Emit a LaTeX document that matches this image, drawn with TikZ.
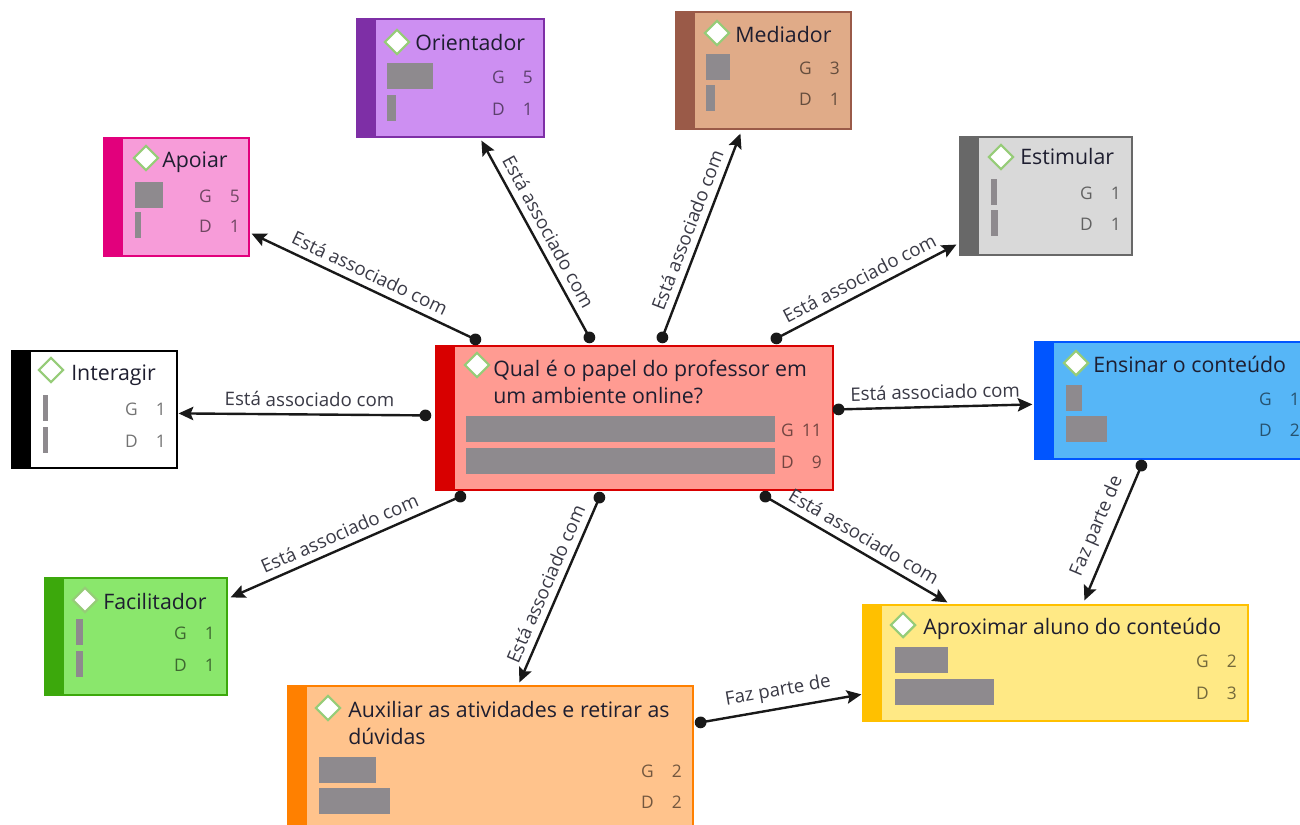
\documentclass[tikz,border=0pt]{standalone}
\usepackage{fontspec}
\setmainfont{Open Sans}
\usetikzlibrary{arrows.meta,calc,fit,shapes.geometric}

\definecolor{titlecol}{HTML}{1E1E30}
\definecolor{lblcol}{HTML}{3A3A46}
\definecolor{diagreen}{HTML}{96CC78}
\definecolor{barcol}{HTML}{8E8A8E}
% stripes / fills
\definecolor{oriS}{HTML}{7E2FA6}\definecolor{oriF}{HTML}{CD8FF2}
\definecolor{medS}{HTML}{9A5A48}\definecolor{medF}{HTML}{E0AB88}
\definecolor{apoS}{HTML}{E2007C}\definecolor{apoF}{HTML}{F79CD9}
\definecolor{estS}{HTML}{686868}\definecolor{estF}{HTML}{D9D9D9}
\definecolor{intS}{HTML}{000000}\definecolor{intF}{HTML}{FFFFFF}
\definecolor{cenS}{HTML}{D80000}\definecolor{cenF}{HTML}{FF9B92}
\definecolor{ensS}{HTML}{0055FF}\definecolor{ensF}{HTML}{56B6F7}
\definecolor{facS}{HTML}{3CA80C}\definecolor{facF}{HTML}{8AE76C}
\definecolor{auxS}{HTML}{FF8000}\definecolor{auxF}{HTML}{FFC38C}
\definecolor{aprS}{HTML}{FFC000}\definecolor{aprF}{HTML}{FFE985}

\tikzset{
  cbox/.style={inner sep=0pt, line width=0.9pt},
  dia/.style={diamond, draw=diagreen, fill=white, line width=1.6pt,
    minimum width=19pt, minimum height=19pt, inner sep=0pt},
  ttl/.style={font=\fontsize{16}{19}\selectfont, text=titlecol, inner sep=0pt, anchor=base west},
  gd/.style={font=\fontsize{13}{15}\selectfont, text=black, text opacity=0.55, inner sep=0pt, anchor=base east},
  bar/.style={fill=barcol},
  conn/.style={line width=1.8pt, draw=black!90, -{Stealth[length=11pt,width=10pt,inset=2pt]}},
  lbl/.style={font=\fontsize{14}{16}\selectfont, text=lblcol, sloped, above, inner sep=5pt},
  dotc/.style={fill=black!90},
}

% name, x1, y1, x2, y2, stripe, fill
\newcommand{\cbox}[7]{%
  \node[cbox, draw=#6, fill=#7, fit={(#2,#3)(#4,#5)}] (#1) {};
  \fill[#6] (#1.north west) rectangle ($(#1.south west)+(20,0)$);}
% name, diamond x, diamond y, text x, text centre y, text
\newcommand{\ctitle}[6]{%
  \node[dia] (#1-dia) at (#2,#3) {};
  \node[ttl] (#1-ttl) at (#4,#5+7.5) {#6};}
% name, bar x0, G bar top, G bar end, D bar top, D bar end, number right, G, D
\newcommand{\cstats}[9]{%
  \fill[bar] (#2,#3) rectangle (#4,#3+26);
  \fill[bar] (#2,#5) rectangle (#6,#5+26);
  \node[gd] (#1-gl) at (#7-28,#3+20) {G};
  \node[gd] (#1-gn) at (#7,#3+20) {#8};
  \node[gd] (#1-dl) at (#7-28,#5+20) {D};
  \node[gd] (#1-dn) at (#7,#5+20) {#9};}
% name, start, end, pos, label
\newcommand{\cconn}[5]{%
  \draw[conn] #2 -- #3 node[lbl, pos=#4] (#1) {#5};
  \fill[dotc] #2 circle[radius=4.4pt];}

\begin{document}
\begin{tikzpicture}[x=0.75pt,y=-0.75pt]
\useasboundingbox (0,0) rectangle (1300,825);
\fill[white] (0,0) rectangle (1300,825);

% ---- boxes
\cbox{ori}{357}{19}{544}{137}{oriS}{oriF}
\ctitle{ori}{397}{42}{415}{43}{Orientador}
\cstats{ori}{387}{63}{433}{95}{396}{533}{5}{1}

\cbox{med}{676}{12}{851}{129}{medS}{medF}
\ctitle{med}{717}{33}{735}{35}{Mediador}
\cstats{med}{706}{54}{730}{85}{715}{840}{3}{1}

\cbox{apo}{104}{138}{249}{256}{apoS}{apoF}
\ctitle{apo}{146}{158}{162}{160}{Apoiar}
\cstats{apo}{135}{182}{163}{212}{141}{240}{5}{1}

\cbox{est}{960}{137}{1132}{255}{estS}{estF}
\ctitle{est}{1001}{157}{1020}{157}{Estimular}
\cstats{est}{991}{179}{997}{210}{998}{1121}{1}{1}

\cbox{int}{12}{351}{177}{468}{intS}{intF}
\ctitle{int}{51}{370}{71}{373}{Interagir}
\cstats{int}{43}{395}{48}{427}{48}{166}{1}{1}

\cbox{cen}{436}{346}{833}{490}{cenS}{cenF}
\ctitle{cen}{477}{365}{493}{369}{Qual é o papel do professor em}
\node[ttl] (cen-ttl2) at (493,396+7.5) {um ambiente online?};
\cstats{cen}{466}{416}{775}{448}{775}{822}{11}{9}

\cbox{ens}{1035}{342}{1320}{459}{ensS}{ensF}
\ctitle{ens}{1076}{363}{1093}{365}{Ensinar o conteúdo}
\cstats{ens}{1066}{385}{1082}{416}{1107}{1300}{1}{2}

\cbox{fac}{45}{578}{227}{695}{facS}{facF}
\ctitle{fac}{85}{600}{103}{602}{Facilitador}
\cstats{fac}{76}{619}{83}{651}{83}{215}{1}{1}

\cbox{aux}{288}{686}{693}{850}{auxS}{auxF}
\ctitle{aux}{328}{708}{348}{710}{Auxiliar as atividades e retirar as}
\node[ttl] (aux-ttl2) at (348,737+7.5) {dúvidas};
\cstats{aux}{319}{757}{376}{788}{390}{682}{2}{2}

\cbox{apr}{863}{605}{1248}{721}{aprS}{aprF}
\ctitle{apr}{903}{625}{923}{627}{Aproximar aluno do conteúdo}
\cstats{apr}{895}{647}{948}{679}{994}{1237}{2}{3}

% ---- connectors
\cconn{l-apo}{($(cen.north west)+(40,-6)$)}{($(apo.south east)+(2,-23)$)}{0.5}{Está associado com}
\cconn{l-ori}{($(cen.north west)+(154,-8)$)}{($(ori.south west)+(125,3)$)}{0.5}{Está associado com}
\cconn{l-med}{($(cen.north west)+(227,-8)$)}{($(med.south west)+(65,4)$)}{0.5}{Está associado com}
\cconn{l-est}{($(cen.north west)+(341,-7)$)}{($(est.south west)+(-3,-11)$)}{0.5}{Está associado com}
\cconn{l-int}{($(cen.north west)+(-10,70)$)}{($(int.north east)+(1,63)$)}{0.47}{Está associado com}
\cconn{l-ens}{($(cen.north east)+(5,64)$)}{($(ens.north west)+(-2,63)$)}{0.5}{Está associado com}
\cconn{l-fac}{($(cen.south west)+(25,6)$)}{($(fac.north east)+(3,20)$)}{0.5}{Está associado com}
\cconn{l-aux}{($(cen.south west)+(164,7)$)}{($(aux.north west)+(232,-3)$)}{0.5}{Está associado com}
\cconn{l-apr}{($(cen.south west)+(330,6)$)}{($(apr.north west)+(85,-2)$)}{0.5}{Está associado com}
\cconn{l-ens-apr}{($(ens.south west)+(107,6)$)}{($(apr.north west)+(222,-4)$)}{0.5}{Faz parte de}
\cconn{l-aux-apr}{($(aux.north east)+(7,37)$)}{($(apr.north west)+(-1,90)$)}{0.5}{Faz parte de}
\end{tikzpicture}
\end{document}
